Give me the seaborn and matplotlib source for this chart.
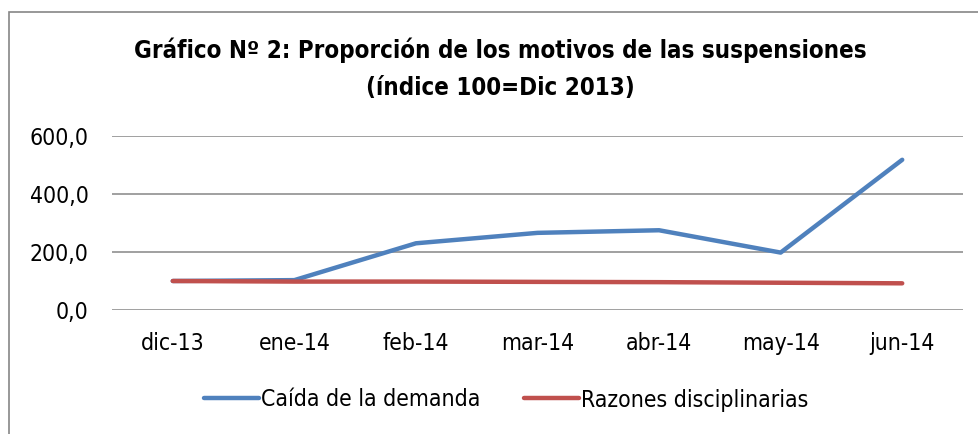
import matplotlib
matplotlib.use("Agg")
import matplotlib.pyplot as plt
import seaborn as sns
import pandas as pd
from matplotlib.lines import Line2D

categories = ["dic-13", "ene-14", "feb-14", "mar-14", "abr-14", "may-14", "jun-14"]
caida_demanda = [100.0, 103.0, 230.0, 266.0, 275.0, 198.0, 518.0]
razones_disciplinarias = [100.0, 98.0, 98.0, 97.0, 96.0, 94.0, 92.0]
yticks = [0, 200, 400, 600]

sns.set_theme(style="white")
plt.rcParams['font.family'] = ['DejaVu Sans']
plt.rcParams['font.stretch'] = 'condensed'
plt.rcParams['text.color'] = 'black'

df = pd.DataFrame({
    "mes": categories * 2,
    "valor": caida_demanda + razones_disciplinarias,
    "serie": ["Caída de la demanda"] * len(categories) + ["Razones disciplinarias"] * len(categories),
})

fig = plt.figure(figsize=(9.79, 4.34), dpi=100)
ax = fig.add_axes([112/979, 1-310/434, (963-112)/979, (310-136)/434])

sns.lineplot(data=df, x="mes", y="valor", hue="serie", sort=False,
             palette={"Caída de la demanda": "#4F81BD", "Razones disciplinarias": "#C0504D"},
             linewidth=3.2, ax=ax, legend=False)

ax.set_xlim(-0.5, len(categories) - 0.5)
ax.set_ylim(0, 600)
ax.set_yticks(yticks)
ax.set_yticklabels([f"{v:.1f}".replace(".", ",") for v in yticks])
ax.yaxis.grid(True, color="#868686", linewidth=1.1)
ax.set_axisbelow(True)
for s in ax.spines.values():
    s.set_visible(False)
ax.set_xlabel("")
ax.set_ylabel("")
ax.tick_params(axis="both", length=0, labelsize=16.5, colors="black")
ax.tick_params(axis="y", pad=17)
ax.tick_params(axis="x", pad=16)

fig.text(0.511, 1-50/434, "Gráfico Nº 2: Proporción de los motivos de las suspensiones",
         ha="center", va="center", fontsize=17.3, fontweight="bold", color="black")
fig.text(0.511, 1-88/434, "(índice 100=Dic 2013)",
         ha="center", va="center", fontsize=17.3, fontweight="bold", color="black")

handles = [Line2D([0], [0], color="#4F81BD", lw=3.2, solid_capstyle="round"),
           Line2D([0], [0], color="#C0504D", lw=3.2, solid_capstyle="round")]
leg = fig.legend(handles, ["Caída de la demanda", "Razones disciplinarias"],
                 loc="center", bbox_to_anchor=(0.517, 1-400/434), ncol=2, frameon=False,
                 fontsize=16.5, handlelength=2.4, handletextpad=0.1, columnspacing=1.9)
for t in leg.get_texts():
    t.set_color("black")

fig.patches.append(plt.Rectangle((9/979, -0.05), 1.2, 1.05 - 12/434 + 0.0, transform=fig.transFigure,
                                 fill=False, edgecolor="#868686", linewidth=1.2))

fig.savefig("out.png", dpi=100)
